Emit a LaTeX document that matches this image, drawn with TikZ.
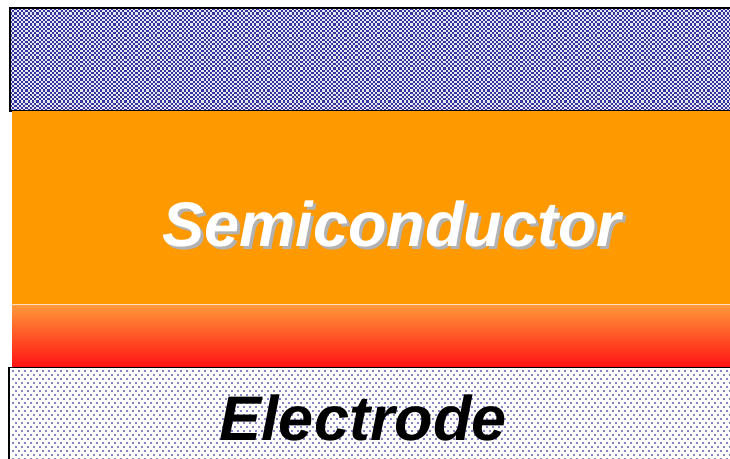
\documentclass[tikz,border=0pt]{standalone}
\usepackage{fontspec}
\setsansfont{Liberation Sans}
\usepackage{tikz}
\usetikzlibrary{calc}

\definecolor{semiorange}{HTML}{FF9900}
\definecolor{gradtop}{HTML}{FF9A3A}
\definecolor{gradbot}{HTML}{FF1212}
\definecolor{checknavy}{HTML}{34349A}
\definecolor{dotblue}{HTML}{5A5AB8}

\begin{document}
\begin{tikzpicture}[
    x=1pt, y=-1pt,
    layertext/.style={font=\fontsize{63}{63}\selectfont\sffamily\bfseries\itshape, inner sep=0pt},
    border/.style={draw=black, line width=1.6pt},
    checkrow/.style={checknavy, line width=2.2pt, dash pattern=on 2.2pt off 2.2pt},
    dotrow/.style={dotblue, line width=2.1pt, line cap=round, dash pattern=on 0pt off 6pt}
]
\useasboundingbox (0,0) rectangle (730,458);

% top contact, checkered
\fill[white!88!checknavy] (10,8) rectangle (735,111);
\begin{scope}
  \clip (10,8) rectangle (735,111);
  \foreach \i in {0,...,47} {
    \pgfmathsetmacro{\ph}{2.2*mod(\i,2)}
    \draw[checkrow, dash phase=\ph pt] (10,9.1+2.2*\i) -- (735,9.1+2.2*\i);
  }
\end{scope}
\draw[border] (735,8) -- (10,8) -- (10,111) -- (735,111);

% semiconductor layer
\fill[semiorange] (12,111) rectangle (735,304);

% graded region
\shade[top color=gradtop, bottom color=gradbot] (12,304) rectangle (735,367);
\draw[white!70!gradtop, line width=0.6pt] (12,304) -- (735,304);

% electrode, dotted
\fill[white] (9,367) rectangle (735,460);
\begin{scope}
  \clip (9,367) rectangle (735,460);
  \foreach \i in {0,...,23} {
    \pgfmathsetmacro{\ph}{3*mod(\i,2)}
    \draw[dotrow, dash phase=\ph pt] (13,371+4*\i) -- (735,371+4*\i);
  }
\end{scope}
\draw[black, line width=0.8pt] (735,367) -- (9,367);
\draw[black, line width=1.6pt] (9,367) -- (9,460);

% labels
\node[layertext, text=white] (semi) at (392,225)
  {\makebox[0pt][l]{\hspace{3pt}\raisebox{-3pt}{\color{black!30}Semiconductor}}Semiconductor};
\node[layertext, text=black] (elec) at (363,418) {Electrode};

\end{tikzpicture}
\end{document}
